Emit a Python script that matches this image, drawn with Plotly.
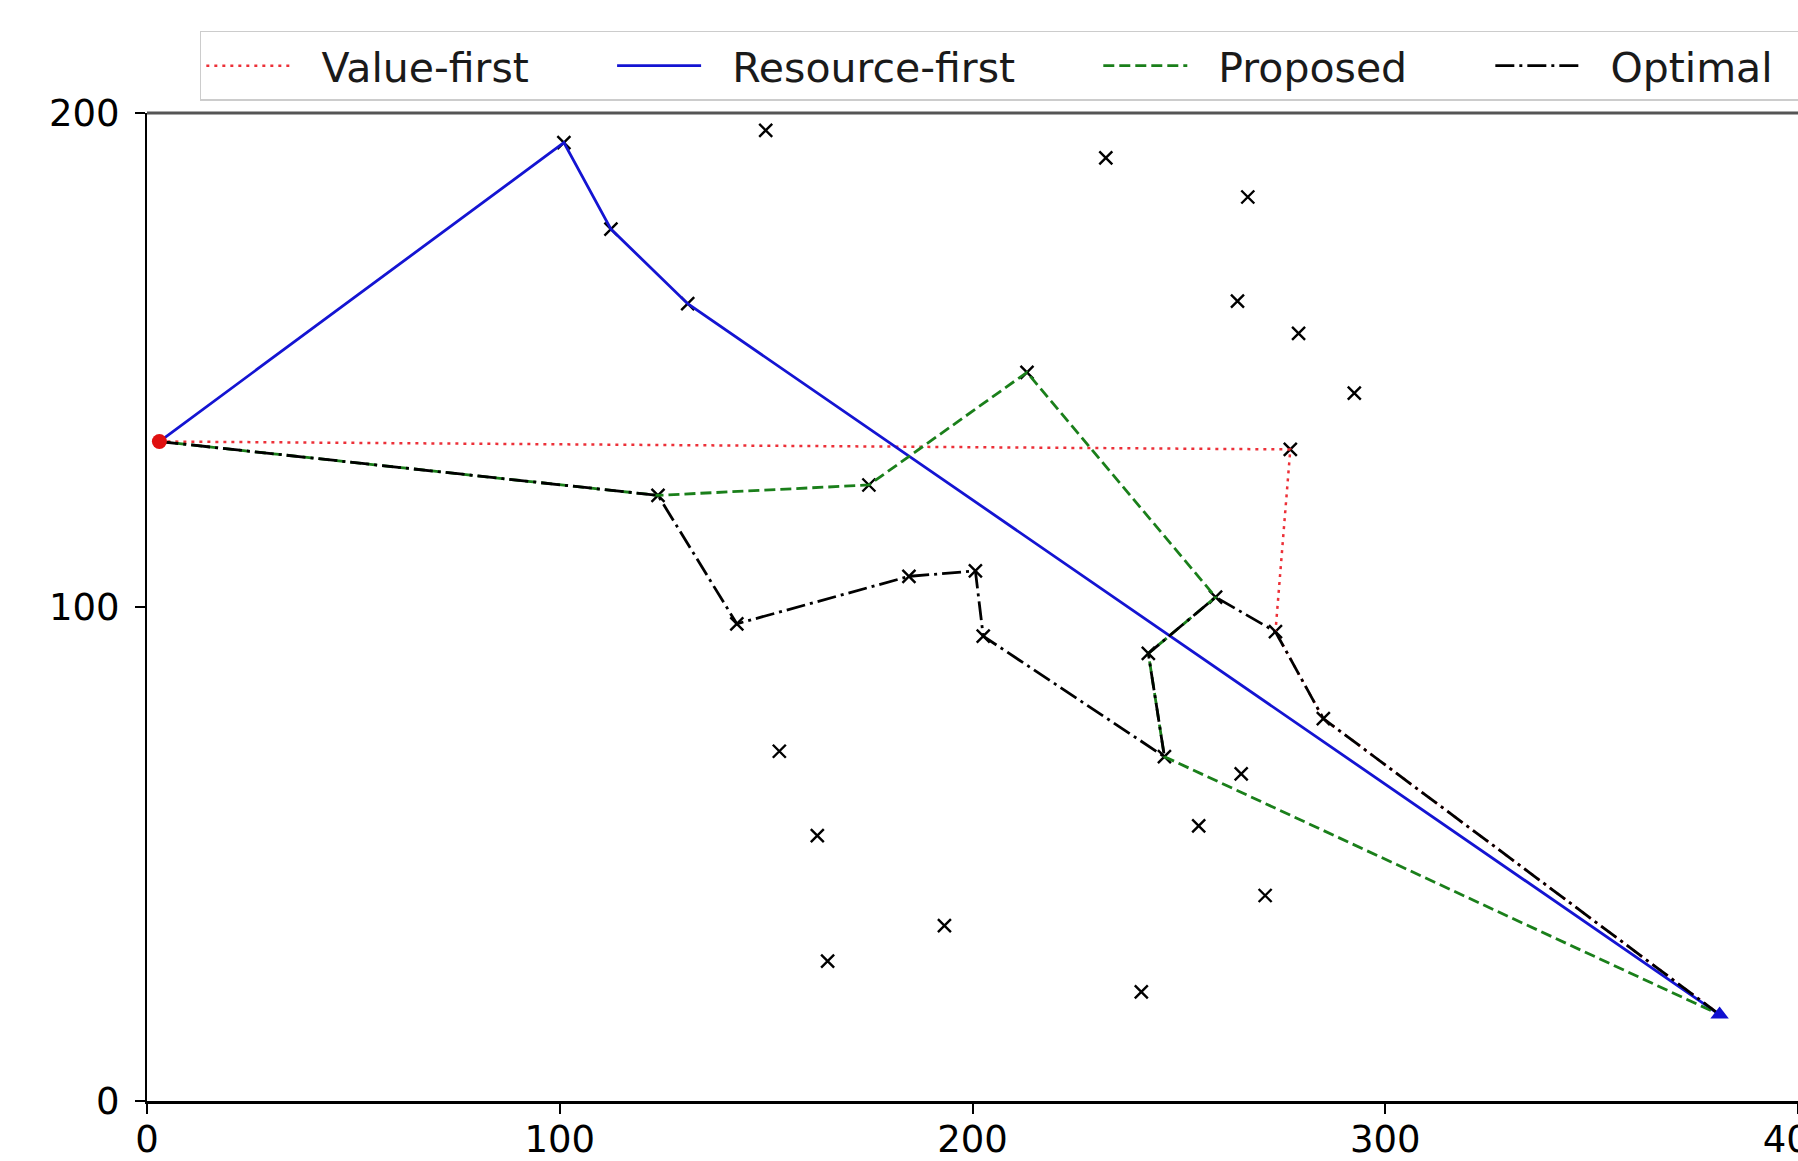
import plotly.graph_objects as go

# Depot: routes leave from the first point and end at the second
depot_start = (3.0, 133.5)
depot_end = (381.0, 17.5)

# Task locations
task_x = [101.0, 112.4, 131.0, 149.9, 232.3, 266.7, 264.2, 279.0, 292.5, 213.2,
          277.0, 123.8, 174.9, 142.9, 184.6, 200.7, 202.6, 258.9, 273.4, 242.6,
          285.0, 246.5, 153.2, 162.4, 265.1, 254.8, 270.9, 193.2, 164.9, 240.9]
task_y = [194.0, 176.5, 161.4, 196.5, 190.9, 183.0, 161.9, 155.4, 143.3, 147.5,
          131.9, 122.6, 124.7, 96.6, 106.2, 107.3, 94.1, 102.0, 95.0, 90.6,
          77.4, 69.7, 70.8, 53.7, 66.2, 55.7, 41.6, 35.5, 28.3, 22.1]

# Visiting order of each strategy (indices into the task lists)
route_value_first = [10, 18, 20]
route_resource_first = [0, 1, 2]
route_proposed = [11, 12, 9, 17, 19, 21]
route_optimal = [11, 13, 14, 15, 16, 21, 19, 17, 18, 20]

series_names = ["Value-first", "Resource-first", "Proposed", "Optimal"]
x_ticks = [0, 100, 200, 300, 400]
y_ticks = [0, 100, 200]

FONT = "DejaVu Sans"


def route_xy(order):
    xs = [depot_start[0]] + [task_x[i] for i in order] + [depot_end[0]]
    ys = [depot_start[1]] + [task_y[i] for i in order] + [depot_end[1]]
    return xs, ys


def legend_label(name, trailing=6):
    return "\u00a0\u00a0" + name + "\u00a0" * trailing


fig = go.Figure()

# all task locations
fig.add_trace(go.Scatter(
    x=task_x, y=task_y, mode="markers", showlegend=False,
    marker=dict(symbol="x-thin", size=13, color="black",
                line=dict(color="black", width=2.4)),
))

styles = [
    (route_value_first, "#ec3038", "3px,5px", 2.5),
    (route_resource_first, "#1414d2", "solid", 2.8),
    (route_proposed, "#1a7f1a", "11px,5px", 2.8),
    (route_optimal, "#000000", "19px,5px,3px,5px", 2.8),
]
trailing = [6, 6, 6, 3]
for k, (order, color, dash, width) in enumerate(styles):
    xs, ys = route_xy(order)
    fig.add_trace(go.Scatter(
        x=xs, y=ys, mode="lines",
        name=legend_label(series_names[k], trailing[k]),
        line=dict(color=color, dash=dash, width=width),
    ))

# depot markers
fig.add_trace(go.Scatter(
    x=[depot_start[0]], y=[depot_start[1]], mode="markers", showlegend=False,
    marker=dict(symbol="circle", size=15, color="#e01010"),
))
fig.add_trace(go.Scatter(
    x=[depot_end[0]], y=[depot_end[1]], mode="markers", showlegend=False,
    marker=dict(symbol="triangle-up", size=16, color="#1010d0"),
))

# top spine
fig.add_shape(type="line", xref="paper", yref="paper", x0=0, x1=1, y0=1, y1=1,
              line=dict(color="#555555", width=3))

fig.update_layout(
    width=1798, height=1161,
    margin=dict(l=147, r=0, t=113, b=60, autoexpand=False),
    paper_bgcolor="white", plot_bgcolor="white",
    font=dict(family=FONT, color="black"),
    showlegend=True,
    legend=dict(
        orientation="h", x=0.032, xanchor="left", y=1.083, yanchor="top",
        font=dict(family=FONT, size=41, color="#1a1a1a"),
        bgcolor="rgba(255,255,255,0.85)", bordercolor="#cccccc", borderwidth=1.5,
        itemwidth=84, traceorder="normal",
    ),
    xaxis=dict(
        range=[0, 400], tickvals=x_ticks, ticktext=[str(v) for v in x_ticks],
        showgrid=False, zeroline=False, showline=True, linecolor="black", linewidth=3,
        ticks="outside", ticklen=10, tickwidth=1.5, tickcolor="black",
        ticklabeloverflow="allow", ticklabelstandoff=-6,
        tickfont=dict(family=FONT, size=37, color="black"), automargin=False,
    ),
    yaxis=dict(
        range=[0, 200], tickvals=y_ticks, ticktext=[str(v) for v in y_ticks],
        showgrid=False, zeroline=False, showline=True, linecolor="black", linewidth=2,
        ticks="outside", ticklen=10, tickwidth=1.5, tickcolor="black",
        ticklabelstandoff=8,
        tickfont=dict(family=FONT, size=37, color="black"), automargin=False,
    ),
)

fig.write_html("out.html")
